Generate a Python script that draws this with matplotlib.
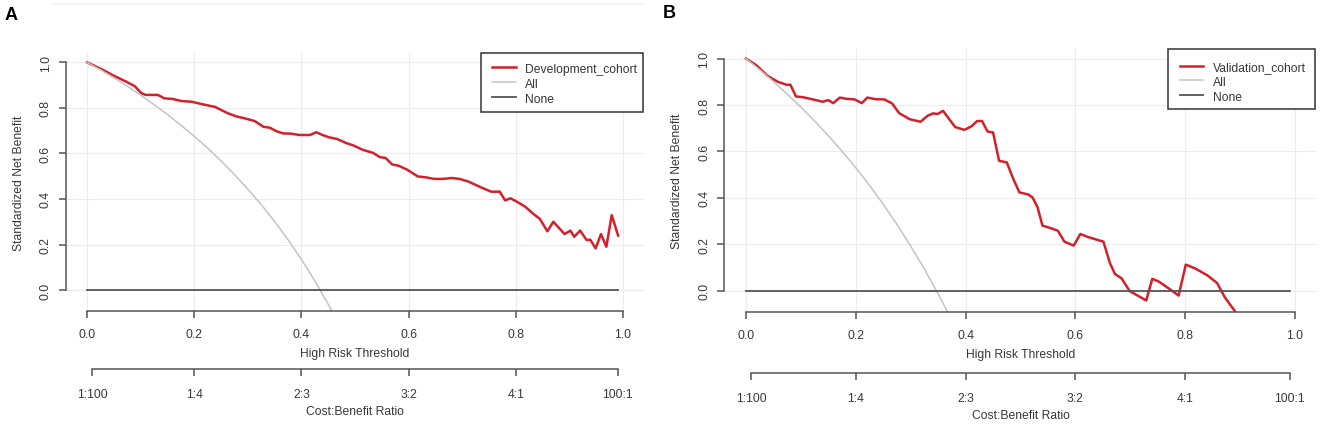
import matplotlib
matplotlib.use("Agg")
import matplotlib.pyplot as plt
from matplotlib.lines import Line2D
from matplotlib.patches import Rectangle

plt.rcParams['font.family'] = ['Liberation Sans', 'DejaVu Sans']

# threshold ticks and cost:benefit ticks
thr_ticks = [0.0, 0.2, 0.4, 0.6, 0.8, 1.0]
thr_labels = ['0.0', '0.2', '0.4', '0.6', '0.8', '1.0']
cb_ticks = [0.01, 0.2, 0.4, 0.6, 0.8, 0.99]
cb_labels = ['1:100', '1:4', '2:3', '3:2', '4:1', '100:1']

# panel A - development cohort
dev_x = [0.0, 0.026, 0.050, 0.073, 0.089, 0.101, 0.109, 0.132, 0.144, 0.160, 0.176,
         0.195, 0.215, 0.239, 0.250, 0.262, 0.278, 0.294, 0.313, 0.329, 0.341, 0.353,
         0.365, 0.380, 0.396, 0.416, 0.428, 0.439, 0.451, 0.467, 0.483, 0.498, 0.514,
         0.534, 0.546, 0.557, 0.569, 0.581, 0.597, 0.617, 0.632, 0.648, 0.664, 0.680,
         0.695, 0.711, 0.735, 0.754, 0.770, 0.780, 0.790, 0.802, 0.817, 0.833, 0.845,
         0.859, 0.870, 0.891, 0.902, 0.909, 0.920, 0.932, 0.939, 0.949, 0.959, 0.969,
         0.979, 0.991]
dev_nb = [1.0, 0.971, 0.941, 0.915, 0.895, 0.865, 0.857, 0.857, 0.842, 0.839, 0.830,
          0.827, 0.816, 0.804, 0.791, 0.777, 0.763, 0.754, 0.742, 0.717, 0.713, 0.698,
          0.688, 0.687, 0.681, 0.681, 0.693, 0.681, 0.671, 0.663, 0.646, 0.634, 0.616,
          0.602, 0.584, 0.580, 0.552, 0.546, 0.529, 0.499, 0.495, 0.488, 0.488, 0.492,
          0.488, 0.477, 0.451, 0.432, 0.432, 0.394, 0.403, 0.388, 0.367, 0.334, 0.312,
          0.258, 0.300, 0.246, 0.261, 0.234, 0.261, 0.220, 0.221, 0.183, 0.246, 0.190,
          0.329, 0.239]
all_a_x = [0.0, 0.025, 0.05, 0.075, 0.1, 0.125, 0.15, 0.175, 0.2, 0.225, 0.25, 0.275,
           0.3, 0.325, 0.35, 0.375, 0.4, 0.425, 0.45, 0.456]
all_a_nb = [1.0, 0.967, 0.932, 0.895, 0.856, 0.814, 0.771, 0.724, 0.675, 0.623, 0.567,
            0.507, 0.443, 0.375, 0.301, 0.221, 0.134, 0.040, -0.063, -0.09]

# panel B - validation cohort
val_x = [0.0, 0.019, 0.039, 0.058, 0.074, 0.081, 0.091, 0.105, 0.120, 0.140, 0.150,
         0.159, 0.171, 0.182, 0.198, 0.211, 0.221, 0.236, 0.252, 0.266, 0.279, 0.298,
         0.318, 0.331, 0.341, 0.349, 0.359, 0.368, 0.381, 0.398, 0.411, 0.421, 0.430,
         0.440, 0.450, 0.461, 0.475, 0.487, 0.498, 0.514, 0.522, 0.531, 0.540, 0.554,
         0.568, 0.580, 0.597, 0.609, 0.624, 0.651, 0.663, 0.672, 0.684, 0.699, 0.711,
         0.729, 0.740, 0.752, 0.771, 0.788, 0.801, 0.818, 0.841, 0.858, 0.872, 0.891]
val_nb = [1.0, 0.971, 0.926, 0.900, 0.887, 0.887, 0.837, 0.833, 0.825, 0.814, 0.821,
          0.808, 0.832, 0.827, 0.824, 0.808, 0.832, 0.825, 0.824, 0.807, 0.765, 0.739,
          0.728, 0.754, 0.764, 0.761, 0.775, 0.746, 0.705, 0.693, 0.709, 0.731, 0.731,
          0.686, 0.682, 0.560, 0.553, 0.481, 0.424, 0.415, 0.402, 0.360, 0.281, 0.271,
          0.259, 0.212, 0.195, 0.245, 0.231, 0.212, 0.119, 0.073, 0.054, -0.001, -0.017,
          -0.041, 0.052, 0.040, 0.009, -0.020, 0.113, 0.097, 0.066, 0.034, -0.027, -0.089]
all_b_x = [0.0, 0.025, 0.05, 0.075, 0.1, 0.125, 0.15, 0.175, 0.2, 0.225, 0.25, 0.275,
           0.3, 0.325, 0.35, 0.367]
all_b_nb = [1.0, 0.952, 0.901, 0.847, 0.791, 0.731, 0.668, 0.601, 0.530, 0.454, 0.373,
            0.286, 0.193, 0.094, -0.013, -0.09]

none_x = [0.0, 0.99]
none_nb = [0.0, 0.0]

RED = '#d4202b'
ALL_GREY = '#c4c4c4'
NONE_GREY = '#555555'
AX_GREY = '#555555'
TXT = '#383838'
FS = 8.7

W, H = 1325, 427
fig = plt.figure(figsize=(W / 100, H / 100), dpi=100)
fig.patch.set_facecolor('white')


def fx(px):
    return px / W


def fy(py):
    return 1 - py / H


def style_axes(ax):
    ax.set_xlim(-0.04, 1.04)
    ax.set_ylim(-0.092, 1.041)
    for s in ['top', 'right']:
        ax.spines[s].set_visible(False)
    for s in ['left', 'bottom']:
        ax.spines[s].set_bounds(0, 1)
        ax.spines[s].set_color(AX_GREY)
        ax.spines[s].set_linewidth(1.1)
    ax.set_xticks(thr_ticks)
    ax.set_xticklabels(thr_labels)
    ax.set_yticks(thr_ticks)
    ax.set_yticklabels(thr_labels, rotation=90, va='center')
    ax.tick_params(length=5, width=1.1, color=AX_GREY, labelcolor=TXT,
                   labelsize=FS, pad=7)
    ax.tick_params(axis='y', pad=5)
    ax.grid(color='#ececec', lw=0.8)
    ax.set_axisbelow(True)
    ax.set_xlabel('High Risk Threshold', fontsize=FS, color=TXT, labelpad=5)
    ax.set_ylabel('Standardized Net Benefit', fontsize=FS, color=TXT, labelpad=11)


def cost_axis(ax_box, y_px):
    left, width = ax_box
    ax2 = fig.add_axes([left, fy(y_px), width, 1e-4])
    ax2.set_xlim(-0.04, 1.04)
    ax2.patch.set_visible(False)
    for s in ['top', 'right', 'left']:
        ax2.spines[s].set_visible(False)
    ax2.spines['bottom'].set_bounds(0.01, 0.99)
    ax2.spines['bottom'].set_color(AX_GREY)
    ax2.spines['bottom'].set_linewidth(1.1)
    ax2.set_yticks([])
    ax2.set_xticks(cb_ticks)
    ax2.set_xticklabels(cb_labels)
    ax2.tick_params(length=5, width=1.1, color=AX_GREY, labelcolor=TXT,
                    labelsize=FS, pad=8.5)
    ax2.set_xlabel('Cost:Benefit Ratio', fontsize=FS, color=TXT, labelpad=4)
    return ax2


def draw_legend(frame, rows, handle_x, text_x, names, styles):
    x0, y0, x1, y1 = frame
    fig.add_artist(Rectangle((fx(x0), fy(y1)), fx(x1) - fx(x0), fy(y0) - fy(y1),
                             transform=fig.transFigure, facecolor='white',
                             edgecolor='#333333', lw=1.1, zorder=5))
    for y, name, (col, lw) in zip(rows, names, styles):
        fig.add_artist(Line2D([fx(handle_x[0]), fx(handle_x[1])], [fy(y), fy(y)],
                              color=col, lw=lw, zorder=6))
        fig.text(fx(text_x), fy(y), name, fontsize=FS, color=TXT,
                 va='center_baseline', ha='left', zorder=6)


def panel(box, model_x, model_nb, all_x, all_nb, name):
    ax = fig.add_axes(box)
    style_axes(ax)
    ax.plot(model_x, model_nb, color=RED, lw=1.8, label=name)
    ax.plot(all_x, all_nb, color=ALL_GREY, lw=1.1, label='All')
    ax.plot(none_x, none_nb, color=NONE_GREY, lw=1.3, label='None')
    return ax


styles = [(RED, 1.8), (ALL_GREY, 1.1), (NONE_GREY, 1.3)]

# panel A
box_a = [fx(65.7), fy(312), (644.4 - 65.7) / W, (312 - 54) / H]
panel(box_a, dev_x, dev_nb, all_a_x, all_a_nb, 'Development_cohort')
cost_axis((box_a[0], box_a[2]), 370)
draw_legend((481, 54, 643, 113), [68.3, 83.3, 98.3], (491.7, 515.6), 525,
            ['Development_cohort', 'All', 'None'], styles)

# panel B
box_b = [fx(724), fy(313.3), (1317 - 724) / W, (313.3 - 50) / H]
panel(box_b, val_x, val_nb, all_b_x, all_b_nb, 'Validation_cohort')
cost_axis((box_b[0], box_b[2]), 374)
draw_legend((1167.7, 50, 1315, 110), [66.7, 81.0, 96.3], (1179.5, 1202.8), 1213.4,
            ['Validation_cohort', 'All', 'None'], styles)

fig.text(fx(5), fy(20), 'A', fontsize=13, fontweight='bold', color='black')
fig.text(fx(663), fy(18), 'B', fontsize=13, fontweight='bold', color='black')

# faint line along the top of panel A
fig.add_artist(Line2D([fx(53), fx(644)], [fy(5), fy(5)], color='#edf3fa', lw=1.2))

fig.savefig('out.png', dpi=100, facecolor='white')
